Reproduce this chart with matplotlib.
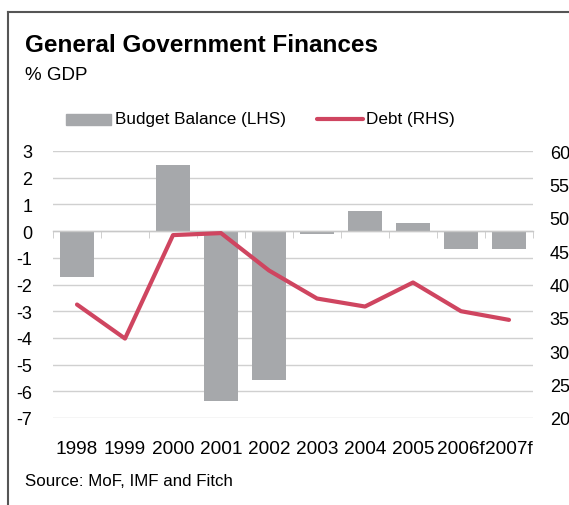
import matplotlib
matplotlib.use("Agg")
import matplotlib.pyplot as plt
import numpy as np
from matplotlib.lines import Line2D
from matplotlib.patches import Rectangle

plt.rcParams['font.family'] = ['Liberation Sans', 'DejaVu Sans']

years = ["1998", "1999", "2000", "2001", "2002", "2003", "2004", "2005", "2006f", "2007f"]
budget_balance = [-1.72, -0.02, 2.48, -6.36, -5.57, -0.1, 0.76, 0.3, -0.66, -0.66]
debt = [37.0, 31.9, 47.4, 47.7, 42.1, 37.9, 36.7, 40.3, 36.0, 34.7]

bar_color = "#A6A8AB"
line_color = "#CF4560"
grid_color = "#D0D0D0"

W, H = 569, 506
fig = plt.figure(figsize=(W / 100, H / 100), dpi=100)

# frame lines (top and left)
fig.add_artist(Line2D([8 / W, 1.0], [1 - 13 / H, 1 - 13 / H], transform=fig.transFigure,
                      color="#555555", lw=1.5))
fig.add_artist(Line2D([8 / W, 8 / W], [0, 1 - 13 / H], transform=fig.transFigure,
                      color="#555555", lw=1.5))

ax = fig.add_axes([53 / W, 87 / H, 480 / W, 267 / H])
x = np.arange(len(years))
ax.set_xlim(-0.5, len(years) - 0.5)
ax.set_ylim(-7, 3)
ax.set_yticks(np.arange(-7, 4, 1))
ax.yaxis.grid(True, color=grid_color, lw=1)
ax.set_axisbelow(True)
for s in ["top", "right", "left"]:
    ax.spines[s].set_visible(False)
ax.spines["bottom"].set_position(("data", 0))
ax.spines["bottom"].set_color("#C8C8C8")
ax.spines["bottom"].set_linewidth(1)
ax.set_xticks(x)
ax.set_xticklabels([])
ax.tick_params(axis="x", which="major", length=0)
ax.set_xticks(np.arange(-0.5, len(years), 1), minor=True)
ax.tick_params(axis="x", which="minor", length=5, color="#C8C8C8", direction="out")
ax.tick_params(axis="y", length=0, pad=15, labelsize=13)
ax.set_yticklabels([str(v) for v in range(-7, 4)])

ax.bar(x, budget_balance, width=0.69, color=bar_color, zorder=2)

ax2 = ax.twinx()
ax2.set_ylim(20, 60)
ax2.set_yticks(np.arange(20, 61, 5))
for s in ["top", "right", "left", "bottom"]:
    ax2.spines[s].set_visible(False)
ax2.tick_params(axis="y", length=0, pad=12, labelsize=13)
ax2.plot(x, debt, color=line_color, lw=3, solid_capstyle="round", zorder=3)

sec = ax.secondary_xaxis("bottom")
sec.set_xticks(x)
sec.set_xticklabels(years, fontsize=13.7)
sec.tick_params(length=0, pad=16)
sec.spines["bottom"].set_visible(False)

fig.text(25 / W, 1 - 46 / H, "General Government Finances", fontsize=17.5, fontweight="bold",
         va="center", ha="left")
fig.text(25 / W, 1 - 75 / H, "% GDP", fontsize=13.5, va="center", ha="left")

# legend
fig.add_artist(Rectangle((66 / W, 1 - 126 / H), 45 / W, 11 / H, transform=fig.transFigure,
                         color=bar_color))
fig.text(115 / W, 1 - 120 / H, "Budget Balance (LHS)", fontsize=12.3, va="center", ha="left")
fig.add_artist(Line2D([317 / W, 363 / W], [1 - 120 / H, 1 - 120 / H], transform=fig.transFigure,
                      color=line_color, lw=3, solid_capstyle="round"))
fig.text(366 / W, 1 - 120 / H, "Debt (RHS)", fontsize=12.3, va="center", ha="left")

fig.text(25 / W, 1 - 482 / H, "Source: MoF, IMF and Fitch", fontsize=12.2, va="center", ha="left")

fig.savefig("out.png", dpi=100)
